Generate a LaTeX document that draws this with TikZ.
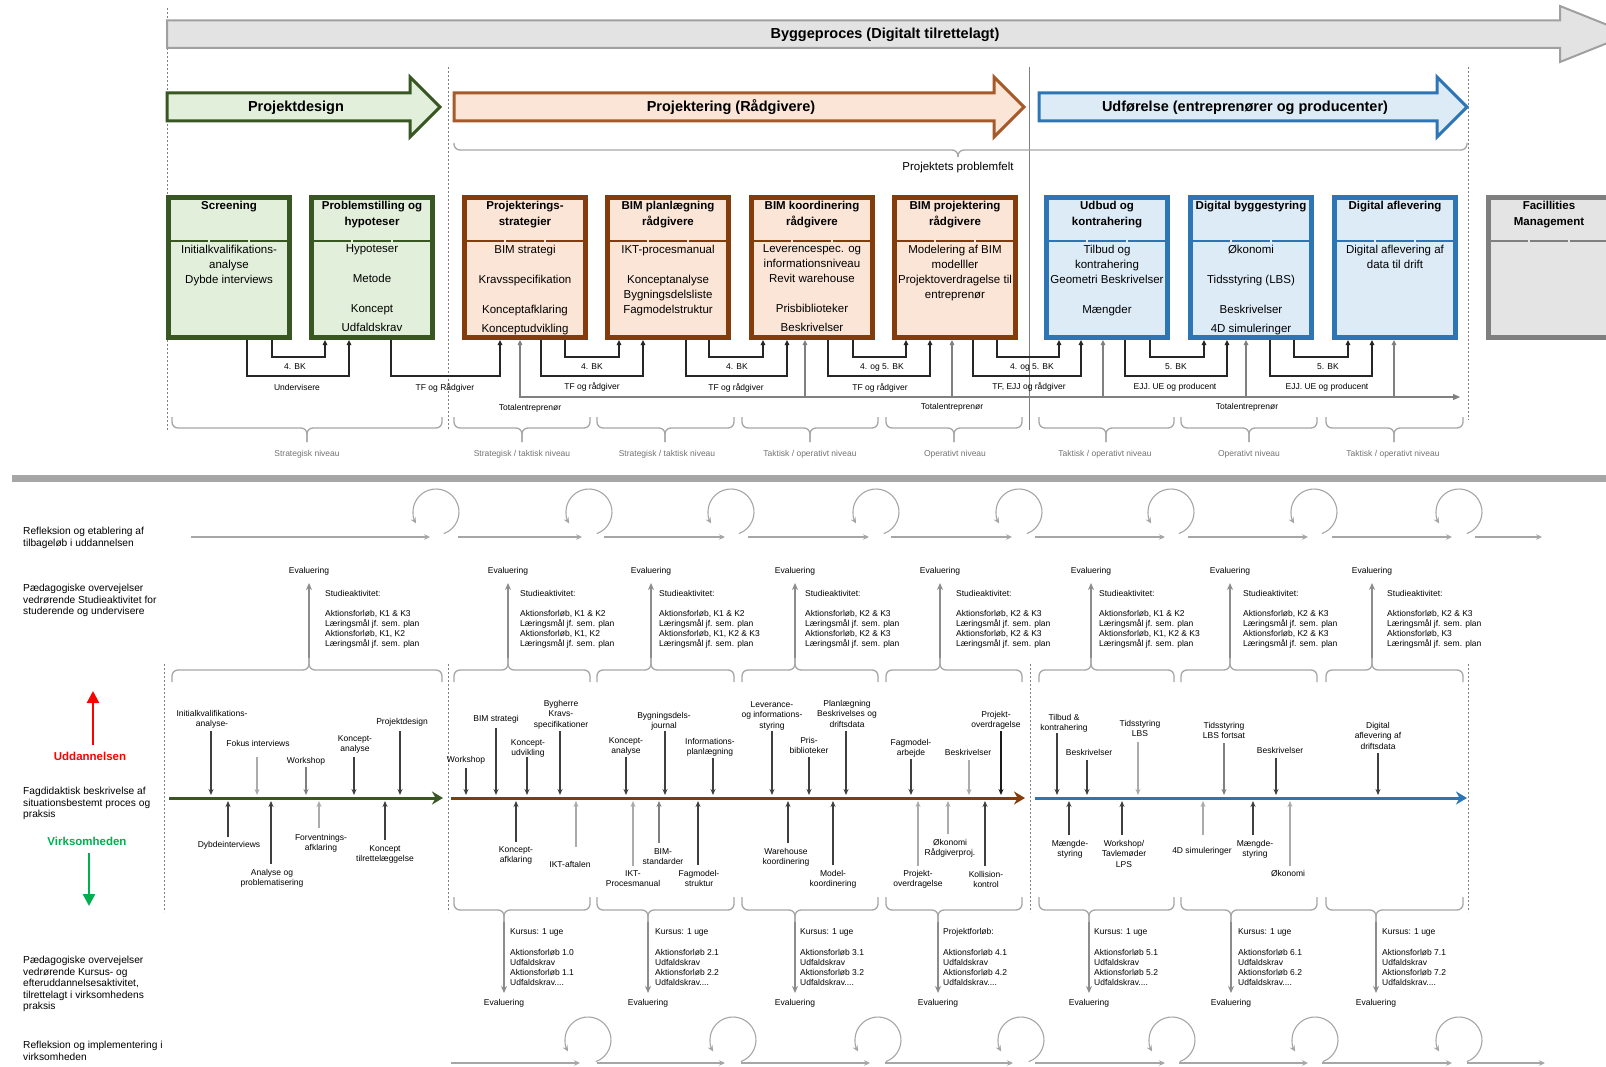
\documentclass[tikz,border=0pt]{standalone}
\usepackage{fontspec}
\setmainfont{Liberation Sans}
\usetikzlibrary{arrows.meta,calc}

\newcommand\fsz[2]{\fontsize{#1}{#2}\selectfont}

\definecolor{gdark}{HTML}{385723}
\definecolor{gfill}{HTML}{E2EFDA}
\definecolor{bdark}{HTML}{843C0C}
\definecolor{bfill}{HTML}{FBE5D6}
\definecolor{barr}{HTML}{A65A2A}
\definecolor{udark}{HTML}{2E75B6}
\definecolor{ufill}{HTML}{DDEBF7}
\definecolor{kdark}{HTML}{7F7F7F}
\definecolor{kfill}{HTML}{E4E4E4}
\definecolor{harr}{HTML}{A0A0A0}
\definecolor{hfill}{HTML}{E3E3E3}
\definecolor{brc}{HTML}{A6A6A6}
\definecolor{lvl}{HTML}{737373}
\definecolor{dk}{HTML}{3F3F3F}
\definecolor{md}{HTML}{7F7F7F}
\definecolor{lt}{HTML}{ABABAB}
\definecolor{bk}{HTML}{1A1A1A}
\definecolor{cblk}{HTML}{262626}
\definecolor{tgray}{HTML}{808080}
\definecolor{sepc}{HTML}{A6A6A6}
\definecolor{refc}{HTML}{A6A6A6}
\definecolor{evc}{HTML}{8C8C8C}
\definecolor{vlc}{HTML}{7F7F7F}
\definecolor{uddr}{HTML}{FF0000}
\definecolor{virk}{HTML}{00B050}

\tikzset{
  pbx/.style={draw=#1, line width=5pt, minimum width=121pt, minimum height=140pt, inner sep=0pt},
  ttl/.style={anchor=north, align=center, inner sep=0pt, font=\bfseries\fsz{11.5}{16}},
  bdy/.style={anchor=north, align=center, inner sep=0pt, font=\fsz{11.5}{15}},
  hdr/.style={anchor=base, inner sep=0pt, font=\bfseries\fsz{14.5}{16}},
  sm/.style={anchor=base, inner sep=0pt, font=\fsz{8.5}{10}},
  lv/.style={sm, text=lvl},
  lbl/.style={anchor=north, align=center, inner sep=0pt, font=\fsz{8.5}{10.5}},
  blk/.style={anchor=north west, align=left, inner sep=0pt, font=\fsz{8.5}{10}},
  side/.style={anchor=north west, align=left, inner sep=0pt, font=\fsz{10.2}{11.5}},
  con/.style={line width=1.2pt, draw=#1, -{Triangle[length=5pt,width=4.5pt]}},
  tot/.style={line width=1.2pt, draw=tgray},
  ta/.style={line width=1.1pt, draw=#1, -{Stealth[length=6pt,width=5pt]}},
  ev/.style={line width=1.3pt, draw=evc, -{Stealth[length=7pt,width=6pt]}},
  refl/.style={line width=1.1pt, draw=refc, -{Stealth[length=6pt,width=5.5pt]}},
  cbr/.style={draw=brc, line width=1.3pt, rounded corners=6pt},
  vl/.style={draw=vlc, line width=0.7pt, dash pattern=on 2pt off 2pt},
  tline/.style={line width=3pt, draw=#1, -{Stealth[length=11pt,width=13pt]}},
}

% curly brace: x-left, x-right, x-tip, y-ends, y-body, y-tip
\newcommand\curlyb[6]{%
  \draw[cbr] (#1,#4) -- (#1,#5) -- (#3,#5) -- (#3,#6);
  \draw[cbr] (#2,#4) -- (#2,#5) -- (#3,#5) -- (#3,#6);}
% reflection loop around a centre
\newcommand\loopat[2]{%
  \draw[refl] ($(#1,#2)+(70:23)$) arc[start angle=70,end angle=-210,radius=23];}
% project box: name, centre x, border, fill, title, body
\newcommand\pbox[6]{%
  \node[pbx=#3, fill=#4] (#1) at (#2,267.5) {};
  \draw[line width=2pt, draw=#3, dash pattern=on 38pt off 2pt]
    ($(#1.west)+(4,-26.5)$) -- ($(#1.east)+(-4,-26.5)$);
  \node[ttl] (#1t) at (#2,200.7) {#5};
  \node[bdy] (#1b) at (#2,244.7) {#6};}
% timeline items: name, label x, label top, text, arrow x, arrow start, colour
\newcommand\tdn[7]{\node[lbl] (#1) at (#2,#3) {#4}; \draw[ta=#7] (#5,#6) -- (#5,795);}
\newcommand\tup[7]{\node[lbl] (#1) at (#2,#3) {#4}; \draw[ta=#7] (#5,#6) -- (#5,801);}
% study activity block
\newcommand\stud[4]{\node[blk] (#1) at (#2,590) {Studieaktivitet:\\[10pt]Aktionsforløb, #3\\Læringsmål jf. sem. plan\\Aktionsforløb, #4\\Læringsmål jf. sem. plan};}
% course block
\newcommand\kurs[5]{\node[blk] (#1) at (#2,928) {#3\\[11pt]Aktionsforløb #4\\Udfaldskrav\\Aktionsforløb #5\\Udfaldskrav....};}

\begin{document}
\begin{tikzpicture}[x=1pt,y=-1pt]
\useasboundingbox (0,0) rectangle (1606,1067);
\clip (0,0) rectangle (1606,1067);
\fill[white] (0,0) rectangle (1606,1067);

% ---------- phase separators (upper part) ----------
\draw[vl] (167,8) -- (167,430);
\draw[vl] (448,67) -- (448,430);
\draw[draw=vlc, line width=0.7pt] (1029,67) -- (1029,430);
\draw[vl] (1468,67) -- (1468,420);

% ---------- process arrows ----------
\draw[line width=2pt, draw=harr, fill=hfill] (167,20.5) -- (1560,20.5) -- (1560,6) -- (1630,34) -- (1560,62) -- (1560,48) -- (167,48) -- cycle;
\node[hdr] (bp) at (885,39) {Byggeproces (Digitalt tilrettelagt)};

\draw[line width=3pt, draw=gdark, fill=gfill] (167,93) -- (410,93) -- (410,77) -- (440,107) -- (410,137) -- (410,121) -- (167,121) -- cycle;
\node[hdr] (pd) at (296,112) {Projektdesign};
\draw[line width=3pt, draw=barr, fill=bfill] (454,93) -- (994,93) -- (994,77) -- (1024,107) -- (994,137) -- (994,121) -- (454,121) -- cycle;
\node[hdr] (pr) at (731,112) {Projektering (Rådgivere)};
\draw[line width=3pt, draw=udark, fill=ufill] (1039,93) -- (1437,93) -- (1437,77) -- (1467,107) -- (1437,137) -- (1437,121) -- (1039,121) -- cycle;
\node[hdr] (ud) at (1245,112) {Udførelse (entreprenører og producenter)};

\curlyb{454}{1467}{958}{143}{150}{157}
\node[anchor=base, inner sep=0pt, font=\fsz{11.5}{13}] (pp) at (958,171) {Projektets problemfelt};

% ---------- project boxes ----------
\pbox{b1}{229}{gdark}{gfill}{Screening}{Initialkvalifikations-\\analyse\\Dybde interviews}
\pbox{b2}{372}{gdark}{gfill}{Problemstilling og\\hypoteser}{Hypoteser\\[15pt]Metode\\[15pt]Koncept\\[4pt]Udfaldskrav}
\pbox{b3}{525}{bdark}{bfill}{Projekterings-\\strategier}{BIM strategi\\[15pt]Kravsspecifikation\\[15pt]Konceptafklaring\\[4pt]Konceptudvikling}
\pbox{b4}{668}{bdark}{bfill}{BIM planlægning\\rådgivere}{IKT-procesmanual\\[15pt]Konceptanalyse\\Bygningsdelsliste\\Fagmodelstruktur}
\pbox{b5}{812}{bdark}{bfill}{BIM koordinering\\rådgivere}{Leverencespec. og\\informationsniveau\\Revit warehouse\\[15pt]Prisbiblioteker\\[4pt]Beskrivelser}
\pbox{b6}{955}{bdark}{bfill}{BIM projektering\\rådgivere}{Modelering af BIM\\modelller\\Projektoverdragelse til\\entreprenør}
\pbox{b7}{1107}{udark}{ufill}{Udbud og\\kontrahering}{Tilbud og\\kontrahering\\Geometri Beskrivelser\\[15pt]Mængder}
\pbox{b8}{1251}{udark}{ufill}{Digital byggestyring}{Økonomi\\[15pt]Tidsstyring (LBS)\\[15pt]Beskrivelser\\[4pt]4D simuleringer}
\pbox{b9}{1395}{udark}{ufill}{Digital aflevering}{Digital aflevering af\\data til drift}
\pbox{b10}{1549}{kdark}{kfill}{Facillities\\Management}{}

% ---------- hand-over connectors ----------
\draw[con=cblk] (b1.south -| 272,0) |- (325,357) -- (b2.south -| 325,0);
\draw[con=cblk] (b1.south -| 247,0) |- (349,376) -- (b2.south -| 349,0);
\draw[con=cblk] (b2.south -| 391,0) |- (500,376) -- (b3.south -| 500,0);
\draw[con=cblk] (b3.south -| 565,0) |- (619,357) -- (b4.south -| 619,0);
\draw[con=cblk] (b3.south -| 541,0) |- (643,376) -- (b4.south -| 643,0);
\draw[con=cblk] (b4.south -| 709,0) |- (763,357) -- (b5.south -| 763,0);
\draw[con=cblk] (b4.south -| 686,0) |- (787,376) -- (b5.south -| 787,0);
\draw[con=cblk] (b5.south -| 853,0) |- (906,357) -- (b6.south -| 906,0);
\draw[con=cblk] (b5.south -| 828,0) |- (930,376) -- (b6.south -| 930,0);
\draw[con=cblk] (b6.south -| 997,0) |- (1059,357) -- (b7.south -| 1059,0);
\draw[con=cblk] (b6.south -| 973,0) |- (1081,376) -- (b7.south -| 1081,0);
\draw[con=cblk] (b7.south -| 1150,0) |- (1204,357) -- (b8.south -| 1204,0);
\draw[con=cblk] (b7.south -| 1125,0) |- (1227,376) -- (b8.south -| 1227,0);
\draw[con=cblk] (b8.south -| 1294,0) |- (1348,357) -- (b9.south -| 1348,0);
\draw[con=cblk] (b8.south -| 1270,0) |- (1372,376) -- (b9.south -| 1372,0);

\draw[tot, {Triangle[length=5pt,width=4.5pt]}-{Triangle[length=7pt,width=6pt]}] (b3.south -| 520,0) |- (1460,397);
\draw[con=tgray] (805,397) -- (b5.south -| 805,0);
\draw[con=tgray] (952,397) -- (b6.south -| 952,0);
\draw[con=tgray] (1103,397) -- (b7.south -| 1103,0);
\draw[con=tgray] (1246,397) -- (b8.south -| 1246,0);
\draw[con=tgray] (1394,397) -- (b9.south -| 1394,0);

\node[sm] (k1) at (295,369) {4. BK};
\node[sm] (k2) at (297,390) {Undervisere};
\node[sm] (k3) at (445,390) {TF og Rådgiver};
\node[sm] (k4) at (592,369) {4. BK};
\node[sm] (k5) at (592,389) {TF og rådgiver};
\node[sm] (k6) at (737,369) {4. BK};
\node[sm] (k7) at (736,390) {TF og rådgiver};
\node[sm] (k8) at (882,369) {4. og 5. BK};
\node[sm] (k9) at (880,390) {TF og rådgiver};
\node[sm] (k10) at (1032,369) {4. og 5. BK};
\node[sm] (k11) at (1029,389) {TF, EJJ og rådgiver};
\node[sm] (k12) at (1176,369) {5. BK};
\node[sm] (k13) at (1175,389) {EJJ. UE og producent};
\node[sm] (k14) at (1328,369) {5. BK};
\node[sm] (k15) at (1327,389) {EJJ. UE og producent};
\node[sm] (te1) at (530,410) {Totalentreprenør};
\node[sm] (te2) at (952,409) {Totalentreprenør};
\node[sm] (te3) at (1247,409) {Totalentreprenør};

% ---------- level braces ----------
\curlyb{172}{442}{307}{417}{428}{442}
\curlyb{454}{590}{522}{417}{428}{442}
\curlyb{597}{734}{665}{417}{428}{442}
\curlyb{742}{878}{810}{417}{428}{442}
\curlyb{886}{1022}{954}{417}{428}{442}
\curlyb{1039}{1174}{1106}{417}{428}{442}
\curlyb{1181}{1317}{1249}{417}{428}{442}
\curlyb{1326}{1463}{1394}{417}{428}{442}
\node[lv] (n1) at (307,456) {Strategisk niveau};
\node[lv] (n2) at (522,456) {Strategisk / taktisk niveau};
\node[lv] (n3) at (667,456) {Strategisk / taktisk niveau};
\node[lv] (n4) at (810,456) {Taktisk / operativt niveau};
\node[lv] (n5) at (955,456) {Operativt niveau};
\node[lv] (n6) at (1105,456) {Taktisk / operativt niveau};
\node[lv] (n7) at (1249,456) {Operativt niveau};
\node[lv] (n8) at (1393,456) {Taktisk / operativt niveau};

% ---------- separator ----------
\draw[line width=7pt, draw=sepc] (12,478) -- (1606,478);

% ---------- left column ----------
\node[side] (s1t) at (23,527) {Refleksion og etablering af\\tilbageløb i uddannelsen};
\node[side] (s2t) at (23,584) {Pædagogiske overvejelser\\vedrørende Studieaktivitet for\\studerende og undervisere};
\node[side] (s3t) at (23,787) {Fagdidaktisk beskrivelse af\\situationsbestemt proces og\\praksis};
\node[side] (s4t) at (23,956) {Pædagogiske overvejelser\\vedrørende Kursus- og\\efteruddannelsesaktivitet,\\tilrettelagt i virksomhedens\\praksis};
\node[side] (s5t) at (23,1041) {Refleksion og implementering i\\virksomheden};
\node[anchor=base, inner sep=0pt, font=\bfseries\fsz{11.5}{13}, text=uddr] (udd) at (90,760) {Uddannelsen};
\node[anchor=base, inner sep=0pt, font=\bfseries\fsz{11.5}{13}, text=virk] (vir) at (87,845) {Virksomheden};
\draw[draw=uddr, line width=2.5pt, -{Triangle[length=12pt,width=12pt]}] (udd.north -| 93,0) ++(0,-6) -- (93,691);
\draw[draw=virk, line width=2.5pt, -{Triangle[length=12pt,width=12pt]}] (vir.south -| 89,0) ++(0,8) -- (89,906);

% ---------- reflection rows ----------
\draw[refl] (191,537) -- (430,537);
\draw[refl] (458,537) -- (582,537);
\draw[refl] (604,537) -- (725,537);
\draw[refl] (748,537) -- (869,537);
\draw[refl] (891,537) -- (1012,537);
\draw[refl] (1035,537) -- (1165,537);
\draw[refl] (1188,537) -- (1308,537);
\draw[refl] (1332,537) -- (1452,537);
\draw[refl] (1475,537) -- (1542,537);
\loopat{436}{512}\loopat{589}{512}\loopat{731}{512}\loopat{876}{512}
\loopat{1019}{512}\loopat{1171}{512}\loopat{1314}{512}\loopat{1459}{512}

\draw[refl] (451,1063) -- (580,1063);
\draw[refl] (597,1063) -- (725,1063);
\draw[refl] (741,1063) -- (870,1063);
\draw[refl] (885,1063) -- (1013,1063);
\draw[refl] (1035,1063) -- (1165,1063);
\draw[refl] (1179,1063) -- (1308,1063);
\draw[refl] (1322,1063) -- (1452,1063);
\draw[refl] (1467,1063) -- (1545,1063);
\loopat{588}{1040}\loopat{733}{1040}\loopat{878}{1040}\loopat{1021}{1040}
\loopat{1172}{1040}\loopat{1315}{1040}\loopat{1459}{1040}

% ---------- study activity (above the timeline) ----------
\curlyb{172}{442}{309}{682}{670}{658}
\curlyb{454}{590}{508}{682}{670}{658}
\curlyb{597}{734}{651}{682}{670}{658}
\curlyb{742}{878}{795}{682}{670}{658}
\curlyb{886}{1022}{940}{682}{670}{658}
\curlyb{1039}{1174}{1091}{682}{670}{658}
\curlyb{1181}{1317}{1230}{682}{670}{658}
\curlyb{1326}{1463}{1372}{682}{670}{658}
\foreach \x [count=\i] in {309,508,651,795,940,1091,1230,1372}{
  \node[sm] (ea\i) at (\x,573) {Evaluering};
  \draw[ev] (\x,658) -- (ea\i.south |- 0,583);
}
\stud{sa1}{325}{K1 \& K3}{K1, K2}
\stud{sa2}{520}{K1 \& K2}{K1, K2}
\stud{sa3}{659}{K1 \& K2}{K1, K2 \& K3}
\stud{sa4}{805}{K2 \& K3}{K2 \& K3}
\stud{sa5}{956}{K2 \& K3}{K2 \& K3}
\stud{sa6}{1099}{K1 \& K2}{K1, K2 \& K3}
\stud{sa7}{1243}{K2 \& K3}{K2 \& K3}
\stud{sa8}{1387}{K2 \& K3}{K3}

% ---------- lower separators ----------
\draw[vl] (164,664) -- (164,912);
\draw[vl] (448,664) -- (448,912);
\draw[vl] (1030,664) -- (1030,912);
\draw[vl] (1468,664) -- (1468,912);

% ---------- timelines ----------
\draw[tline=gdark] (169,798) -- (443,798);
\draw[tline=bdark] (451,798) -- (1025,798);
\draw[tline=udark] (1035,798) -- (1467,798);

\tdn{g1}{212}{710}{Initialkvalifikations-\\analyse-}{211}{731}{dk}
\tdn{g2}{258}{740}{Fokus interviews}{257}{757}{lt}
\tdn{g3}{306}{757}{Workshop}{306}{767}{md}
\tdn{g4}{355}{735}{Koncept-\\analyse}{354}{757}{dk}
\tdn{g5}{402}{718}{Projektdesign}{400}{731}{dk}
\tup{g6}{229}{841}{Dybdeinterviews}{228}{837}{dk}
\tup{g7}{272}{869}{Analyse og\\problematisering}{271}{864}{dk}
\tup{g8}{321}{834}{Forventnings-\\afklaring}{319}{828}{lt}
\tup{g9}{385}{845}{Koncept\\tilrettelæggelse}{385}{840}{dk}

\tdn{p1}{466}{756}{Workshop}{466}{768}{dk}
\tdn{p2}{496}{715}{BIM strategi}{496}{728}{dk}
\tdn{p3}{528}{739}{Koncept-\\udvikling}{527}{757}{dk}
\tdn{p4}{561}{700}{Bygherre\\Kravs-\\specifikationer}{560}{731}{dk}
\tdn{p5}{626}{737}{Koncept-\\analyse}{626}{757}{dk}
\tdn{p6}{664}{712}{Bygningsdels-\\journal}{665}{731}{dk}
\tdn{p7}{710}{738}{Informations-\\planlægning}{713}{758}{dk}
\tdn{p8}{772}{701}{Leverance-\\og informations-\\styring}{772}{731}{dk}
\tdn{p9}{809}{737}{Pris-\\biblioteker}{809}{757}{dk}
\tdn{p10}{847}{700}{Planlægning\\Beskrivelses og\\driftsdata}{846}{731}{dk}
\tdn{p11}{911}{739}{Fagmodel-\\arbejde}{911}{759}{dk}
\tdn{p12}{968}{749}{Beskrivelser}{969}{760}{lt}
\tdn{p13}{996}{711}{Projekt-\\overdragelse}{1001}{731}{bk}
\tup{p14}{516}{846}{Koncept-\\afklaring}{516}{842}{dk}
\tup{p15}{570}{861}{IKT-aftalen}{576}{847}{lt}
\tup{p16}{633}{870}{IKT-\\Procesmanual}{633}{866}{lt}
\tup{p17}{663}{848}{BIM-\\standarder}{659}{843}{md}
\tup{p18}{699}{870}{Fagmodel-\\struktur}{698}{865}{dk}
\tup{p19}{786}{848}{Warehouse\\koordinering}{788}{843}{dk}
\tup{p20}{833}{870}{Model-\\koordinering}{833}{865}{dk}
\tup{p21}{918}{870}{Projekt-\\overdragelse}{918}{866}{lt}
\tup{p22}{950}{839}{Økonomi\\Rådgiverproj.}{948}{834}{lt}
\tup{p23}{986}{871}{Kollision-\\kontrol}{985}{866}{dk}

\tdn{u1}{1064}{714}{Tilbud \&\\kontrahering}{1057}{733}{dk}
\tdn{u2}{1089}{749}{Beskrivelser}{1087}{760}{dk}
\tdn{u3}{1140}{720}{Tidsstyring\\LBS}{1138}{742}{lt}
\tdn{u4}{1224}{722}{Tidsstyring\\LBS fortsat}{1224}{743}{md}
\tdn{u5}{1280}{747}{Beskrivelser}{1276}{758}{dk}
\tdn{u6}{1378}{722}{Digital\\aflevering af\\driftsdata}{1378}{753}{dk}
\tup{u7}{1070}{840}{Mængde-\\styring}{1069}{835}{dk}
\tup{u8}{1124}{840}{Workshop/\\Tavlemøder\\LPS}{1122}{835}{dk}
\tup{u9}{1202}{847}{4D simuleringer}{1203}{835}{lt}
\tup{u10}{1255}{840}{Mængde-\\styring}{1253}{835}{dk}
\tup{u11}{1288}{870}{Økonomi}{1290}{866}{lt}

% ---------- course activity (below the timeline) ----------
\curlyb{454}{590}{504}{897}{910}{922}
\curlyb{597}{734}{648}{897}{910}{922}
\curlyb{742}{878}{795}{897}{910}{922}
\curlyb{886}{1022}{938}{897}{910}{922}
\curlyb{1039}{1174}{1089}{897}{910}{922}
\curlyb{1181}{1317}{1231}{897}{910}{922}
\curlyb{1326}{1463}{1376}{897}{910}{922}
\foreach \x [count=\i] in {504,648,795,938,1089,1231,1376}{
  \node[sm] (eb\i) at (\x,1005) {Evaluering};
  \draw[ev] (\x,922) -- (eb\i.north |- 0,993);
}
\kurs{ku1}{510}{Kursus: 1 uge}{1.0}{1.1}
\kurs{ku2}{655}{Kursus: 1 uge}{2.1}{2.2}
\kurs{ku3}{800}{Kursus: 1 uge}{3.1}{3.2}
\kurs{ku4}{943}{Projektforløb:}{4.1}{4.2}
\kurs{ku5}{1094}{Kursus: 1 uge}{5.1}{5.2}
\kurs{ku6}{1238}{Kursus: 1 uge}{6.1}{6.2}
\kurs{ku7}{1382}{Kursus: 1 uge}{7.1}{7.2}
\end{tikzpicture}
\end{document}
